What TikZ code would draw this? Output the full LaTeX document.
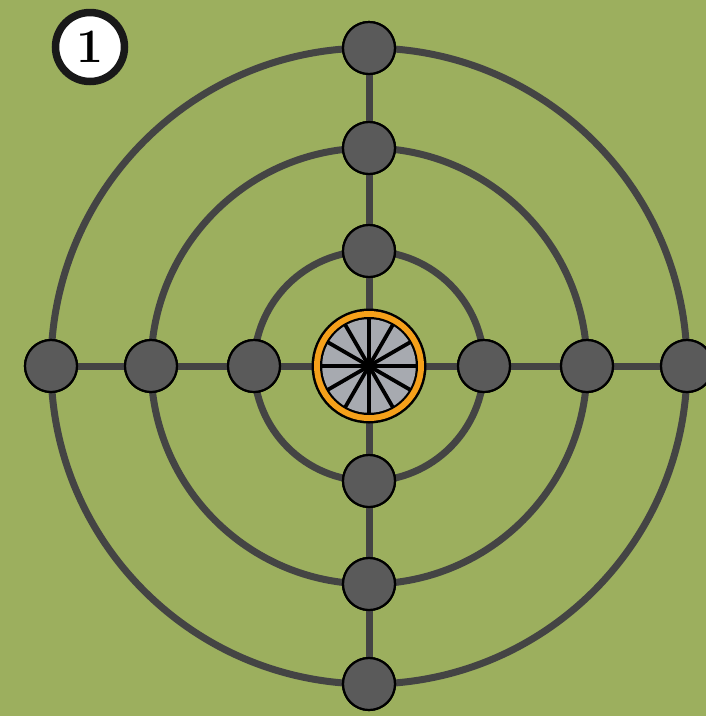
\documentclass[tikz,border=0pt]{standalone}
\usetikzlibrary{calc}
\definecolor{bg}{HTML}{9CAF5E}
\definecolor{track}{HTML}{444444}
\definecolor{stop}{HTML}{5A5A5A}
\definecolor{hub}{HTML}{A7AAB0}
\definecolor{ring}{HTML}{F5A01A}
\begin{document}
\begin{tikzpicture}[x=1pt,y=-1pt,
  trackline/.style={draw=track,line width=7pt},
  stopnode/.style={circle,draw=black,line width=2.2pt,fill=stop,minimum size=52pt,inner sep=0pt},
  badge/.style={circle,draw=black!90,line width=7.5pt,fill=white,minimum size=69pt,inner sep=0pt,font=\fontsize{48}{48}\selectfont\bfseries}]
\fill[bg] (0,0) rectangle (706,716);
\useasboundingbox (0,0) rectangle (706,716);
\coordinate (c) at (369,366);
% rings
\draw[trackline] (c) circle[radius=115];
\draw[trackline] (c) circle[radius=218];
\draw[trackline] (c) circle[radius=318];
% stop nodes (placed to name them)
\foreach \r/\n in {115/i,218/m,318/o}{
  \node[stopnode] (\n t) at ($(c)+(0,-\r)$) {};
  \node[stopnode] (\n b) at ($(c)+(0,\r)$) {};
  \node[stopnode] (\n l) at ($(c)+(-\r,0)$) {};
  \node[stopnode] (\n r) at ($(c)+(\r,0)$) {};
}
% radial track lines
\draw[trackline] (ot) -- (mt);
\draw[trackline] (mt) -- (it);
\draw[trackline] (it) -- (c);
\draw[trackline] (ob) -- (mb);
\draw[trackline] (mb) -- (ib);
\draw[trackline] (ib) -- (c);
\draw[trackline] (ol) -- (ml);
\draw[trackline] (ml) -- (il);
\draw[trackline] (il) -- (c);
\draw[trackline] (or) -- (mr);
\draw[trackline] (mr) -- (ir);
\draw[trackline] (ir) -- (c);
% redraw nodes on top of the lines
\foreach \r in {115,218,318}{
  \node[stopnode] at ($(c)+(0,-\r)$) {};
  \node[stopnode] at ($(c)+(0,\r)$) {};
  \node[stopnode] at ($(c)+(-\r,0)$) {};
  \node[stopnode] at ($(c)+(\r,0)$) {};
}
% central wheel
\fill[black] (c) circle[radius=57.5];
\fill[ring] (c) circle[radius=55];
\fill[black] (c) circle[radius=49];
\fill[hub] (c) circle[radius=46.8];
\foreach \a in {0,30,...,330}{
  \draw[black,line width=3.8pt] (c) -- ++(\a:47.5);
}
\fill[black] (c) circle[radius=4];
% badge
\node[badge] (badge) at (90,47) {1};
\end{tikzpicture}
\end{document}
